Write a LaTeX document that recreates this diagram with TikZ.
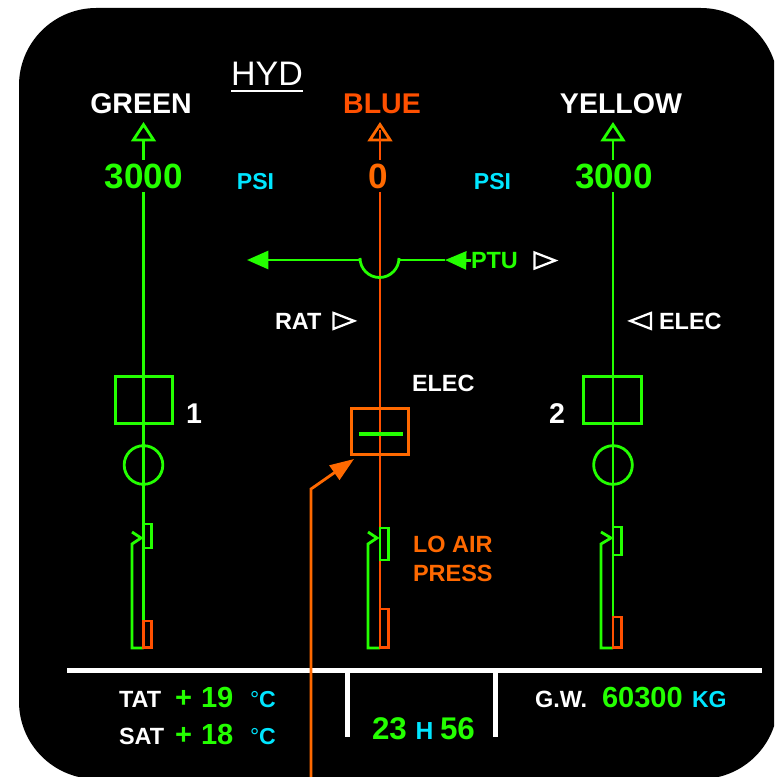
\documentclass[tikz,border=0pt]{standalone}
\usepackage{fontspec}
\setmainfont{Liberation Sans}
\definecolor{ecamGreen}{RGB}{36, 255, 0}
\definecolor{ecamCyan}{RGB}{0, 230, 255}
\definecolor{ecamRed}{RGB}{255, 80, 0}
\definecolor{ecamOrange}{RGB}{255, 105, 0}
\usetikzlibrary{shapes.geometric, arrows.meta, positioning}

\begin{document}
\begin{tikzpicture}[x=0.75pt, y=-0.75pt,
  node distance=6pt and 6pt,
  every node/.style={inner sep=0pt, outer sep=0pt},
  title/.style={font=\fontsize{25.5}{25.5}\selectfont, text=white, anchor=base},
  hdr/.style={font=\bfseries\fontsize{21.4}{21.4}\selectfont, anchor=base},
  val/.style={font=\bfseries\fontsize{26.3}{26.3}\selectfont, text=ecamGreen, anchor=base},
  unit/.style={font=\bfseries\fontsize{17.3}{17.3}\selectfont, text=ecamCyan, anchor=base},
  lab/.style={font=\bfseries\fontsize{17.6}{17.6}\selectfont, text=white, anchor=base},
  num/.style={font=\bfseries\fontsize{21.8}{21.8}\selectfont, text=ecamGreen, anchor=base west},
  glin/.style={draw=ecamGreen, line width=2.1pt},
  rlin/.style={draw=ecamRed, line width=2.1pt},
  olin/.style={draw=ecamOrange, line width=2.1pt},
  wlin/.style={draw=white, line width=3.2pt},
  pumpbox/.style={rectangle, glin, minimum width=43pt, minimum height=35pt},
  pumpdisc/.style={circle, glin, minimum size=29pt},
  valve/.style={rectangle, anchor=north west, minimum width=6.2pt},
  tri/.style={isosceles triangle, isosceles triangle stretches, draw=white,
              line width=1.7pt, minimum width=12pt, minimum height=15.5pt},
  outopen/.style={-{Triangle[open, length=14.5pt, width=18.5pt]}},
  fillhead/.style={-{Triangle[length=16pt, width=13.5pt]}},
]
  \clip (0,0) rectangle (774,777);
  \fill[black, rounded corners=58pt] (19,8) rectangle (778,779);

  \node[title] (hyd) at (267,85.5) {HYD};
  \draw[draw=white, line width=1.6pt] ([yshift=-4pt]hyd.south west) -- ([yshift=-4pt]hyd.south east);

  \node[hdr, text=white] (green) at (141,114) {GREEN};
  \node[hdr, text=ecamRed] (blue) at (382,114) {BLUE};
  \node[hdr, text=white] (yellow) at (621,114) {YELLOW};

  \node[val] (press1) at (144,189) {3000};
  \node[val, text=ecamOrange] (press2) at (378,189) {0};
  \node[val] (press3) at (614,189) {3000};
  \node[unit] (psi1) at (255.5,189.5) {PSI};
  \node[unit] (psi2) at (492.5,189.5) {PSI};

  \coordinate (tipG) at (143.5,122);
  \coordinate (stemG) at (143.5,160);
  \coordinate (tipB) at (380,122);
  \coordinate (stemB) at (380,160);
  \coordinate (innerB) at (380,130);
  \coordinate (tipY) at (613,122);
  \coordinate (stemY) at (613,160);
  \coordinate (topG) at (143.5,192);
  \coordinate (topB) at (380,192);
  \coordinate (topY) at (613,192);
  \coordinate (endG) at (143.5,648);
  \coordinate (endB) at (380,648);
  \coordinate (endY) at (613,648);

  \draw[glin, outopen] (stemG) -- (tipG);
  \draw[olin, outopen] (stemB) -- (tipB);
  \draw[rlin] (stemB) -- (innerB);
  \draw[glin, outopen] (stemY) -- (tipY);
  \draw[glin] (topG) -- (endG);
  \draw[rlin] (topB) -- (endB);
  \draw[glin] (topY) -- (endY);

  \node[lab, text=ecamGreen, anchor=base west] (ptu) at (471,268.5) {PTU};
  \node[tri, right=12.5pt of ptu] (ptutri) {};
  \coordinate (ptuTip) at (445,260);
  \coordinate (ptuLeft) at (247,260);
  \coordinate (arcL) at (360,260);
  \coordinate (arcR) at (399,260);
  \draw[glin, fillhead] (arcL) -- (ptuLeft);
  \draw[glin] (arcR) -- (ptuTip);
  \draw[glin, fillhead] (ptu.west) -- (ptuTip);
  \draw[glin] (360,258) arc[start angle=180, end angle=0, radius=19.5];

  \node[lab, anchor=base west] (rat) at (275,329) {RAT};
  \node[tri, right=9pt of rat] (rattri) {};
  \node[lab, anchor=base west] (elec2) at (659,329) {ELEC};
  \node[tri, shape border rotate=180, left=6pt of elec2] (elec2tri) {};
  \node[lab, anchor=base west] (elec1) at (412,391) {ELEC};

  \node[pumpbox] (pump1) at (144,400) {};
  \node[pumpbox] (pump2) at (612.5,400) {};
  \node[hdr, text=white, anchor=base west] (num1) at (186,423) {1};
  \node[hdr, text=white, anchor=base west] (num2) at (549,423) {2};
  \node[pumpdisc] (disc1) at (143.5,465) {};
  \node[pumpdisc] (disc2) at (613,465) {};

  \node[rectangle, olin, minimum width=43pt, minimum height=34.5pt] (elecbox) at (380,431.5) {};
  \coordinate (barL) at (359,434);
  \coordinate (barR) at (403,434);
  \draw[glin, line width=2.6pt] (barL) -- (barR);

  \node[valve, glin, minimum height=18pt] (lo1) at (143.5,524) {};
  \node[valve, glin, minimum height=24pt] (lo2) at (380,528) {};
  \node[valve, glin, minimum height=21pt] (lo3) at (613,527) {};
  \draw[glin] (132,532) -- (141,538) -- (132,544) -- (132,648) -- (endG);
  \draw[glin] (368,532) -- (377,538) -- (368,544) -- (368,648) -- (endB);
  \draw[glin] (601,532) -- (611,538) -- (601,544) -- (601,648) -- (endY);
  \node[valve, rlin, minimum height=20pt] (res1) at (143.5,621) {};
  \node[valve, rlin, minimum height=29pt] (res2) at (380,609) {};
  \node[valve, rlin, minimum height=23pt] (res3) at (613,617) {};

  \node[lab, text=ecamOrange, anchor=base west] (loair) at (413,552) {LO AIR};
  \node[lab, text=ecamOrange, anchor=base west] (press) at (413,581) {PRESS};

  \coordinate (ruleL) at (67,670.5);
  \coordinate (ruleR) at (762,670.5);
  \coordinate (sep1) at (347.5,737);
  \coordinate (sep1top) at (347.5,670.5);
  \coordinate (sep2) at (495.5,737);
  \coordinate (sep2top) at (495.5,670.5);
  \draw[wlin] (ruleL) -- (ruleR);
  \draw[wlin] (sep1top) -- (sep1);
  \draw[wlin] (sep2top) -- (sep2);

  \coordinate (feedB) at (311,790);
  \coordinate (feedK) at (311,489);
  \coordinate (feedT) at (354,459);
  \draw[olin, -{Triangle[length=18pt, width=13pt]}] (feedB) -- (feedK) -- (feedT);

  \node[lab, anchor=base west] (tat) at (119,707) {TAT};
  \node[lab, anchor=base west] (sat) at (119,744) {SAT};
  \node[num] (plus1) at (175,707) {+};
  \node[num] (plus2) at (175,744) {+};
  \node[num] (tatval) at (201,707) {19};
  \node[num] (satval) at (201,744) {18};
  \node[unit, anchor=base west] (tatunit) at (250,707) {\fontseries{m}\selectfont°\fontseries{b}\selectfont C};
  \node[unit, anchor=base west] (satunit) at (250,744) {\fontseries{m}\selectfont°\fontseries{b}\selectfont C};

  \node[num, font=\bfseries\fontsize{23.5}{23.5}\selectfont] (hours) at (372,739) {23};
  \node[unit, anchor=base west, font=\bfseries\fontsize{18.5}{18.5}\selectfont] (hsep) at (415.5,739) {H};
  \node[num, font=\bfseries\fontsize{23.5}{23.5}\selectfont] (mins) at (440,739) {56};

  \node[lab, anchor=base west] (gw) at (535,707) {G.W.};
  \node[num] (gwval) at (602,707) {60300};
  \node[unit, anchor=base west] (kg) at (692,707) {KG};
\end{tikzpicture}
\end{document}
